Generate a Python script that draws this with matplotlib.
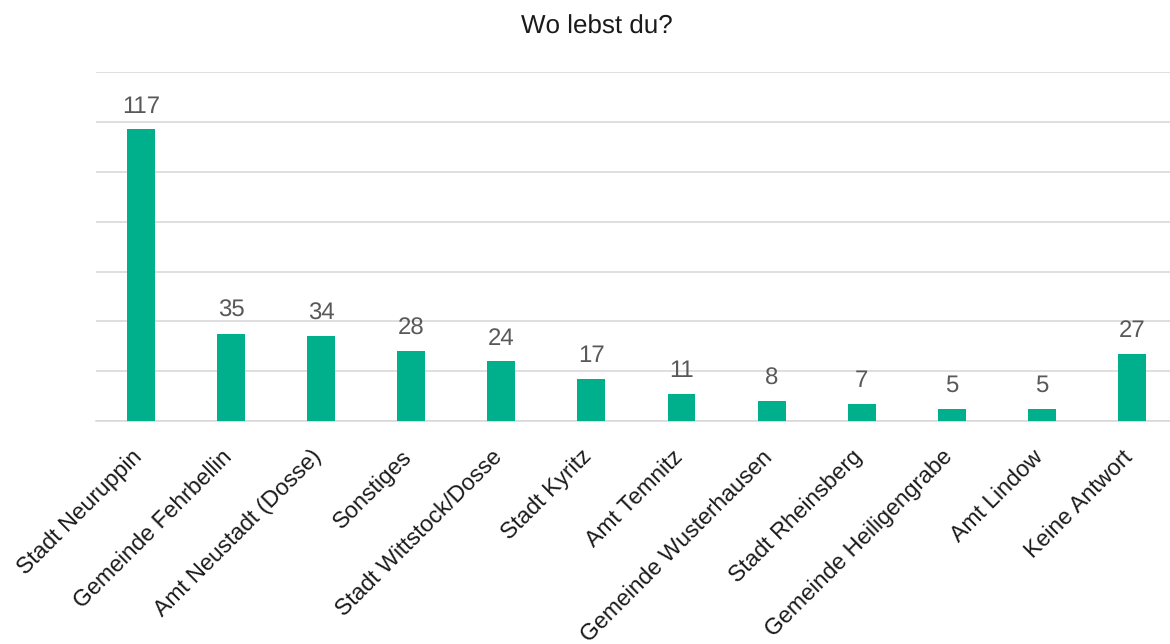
import matplotlib
matplotlib.use('Agg')
import matplotlib.pyplot as plt
import matplotlib.transforms as mtrans

plt.rcParams.update({
    'font.family': ['Liberation Sans', 'DejaVu Sans'],
    'font.size': 14,
    'text.hinting': 'no_hinting',
    'text.hinting_factor': 1,
})

categories = ['Stadt Neuruppin', 'Gemeinde Fehrbellin', 'Amt Neustadt (Dosse)',
              'Sonstiges', 'Stadt Wittstock/Dosse', 'Stadt Kyritz', 'Amt Temnitz',
              'Gemeinde Wusterhausen', 'Stadt Rheinsberg', 'Gemeinde Heiligengrabe',
              'Amt Lindow', 'Keine Antwort']
counts = [117, 35, 34, 28, 24, 17, 11, 8, 7, 5, 5, 27]

fig = plt.figure(figsize=(11.7, 6.44), dpi=100)
# plot area runs past the right edge of the figure, as in the reference
ax = fig.add_axes([0.082, 0.346, 0.924, 0.542])

x = range(len(categories))
ax.bar(x, counts, width=0.31, color='#00B08C', zorder=3)

for xi, v in zip(x, counts):
    ax.annotate(str(v), (xi, v), xytext=(0, 12), textcoords='offset points',
                ha='center', va='baseline', fontsize=17.5, color='#595959')

ax.set_xlim(-0.5, len(categories) - 0.5)
ax.set_ylim(0, 140)
ax.set_yticks(range(0, 141, 20))
ax.yaxis.grid(True, color='#D9D9D9', linewidth=1.2, zorder=0)
ax.tick_params(axis='y', left=False, labelleft=False)
ax.tick_params(axis='x', length=0, pad=18)
ax.set_xticks(list(x))
ax.set_xticklabels(categories, rotation=45, ha='right', rotation_mode='anchor',
                   fontsize=16.5, color='#1a1a1a')
shift = mtrans.ScaledTranslation(-10 / 100, 0, fig.dpi_scale_trans)
for lab in ax.get_xticklabels():
    lab.set_transform(lab.get_transform() + shift)
for s in ('top', 'right', 'left'):
    ax.spines[s].set_visible(False)
ax.spines['bottom'].set_color('#D9D9D9')
ax.spines['bottom'].set_linewidth(1.2)

fig.text(0.51, 1 - 34 / 644, 'Wo lebst du?', ha='center', va='baseline',
         fontsize=18.5, color='#1a1a1a')

fig.savefig('out.png', dpi=100)
plt.close()
